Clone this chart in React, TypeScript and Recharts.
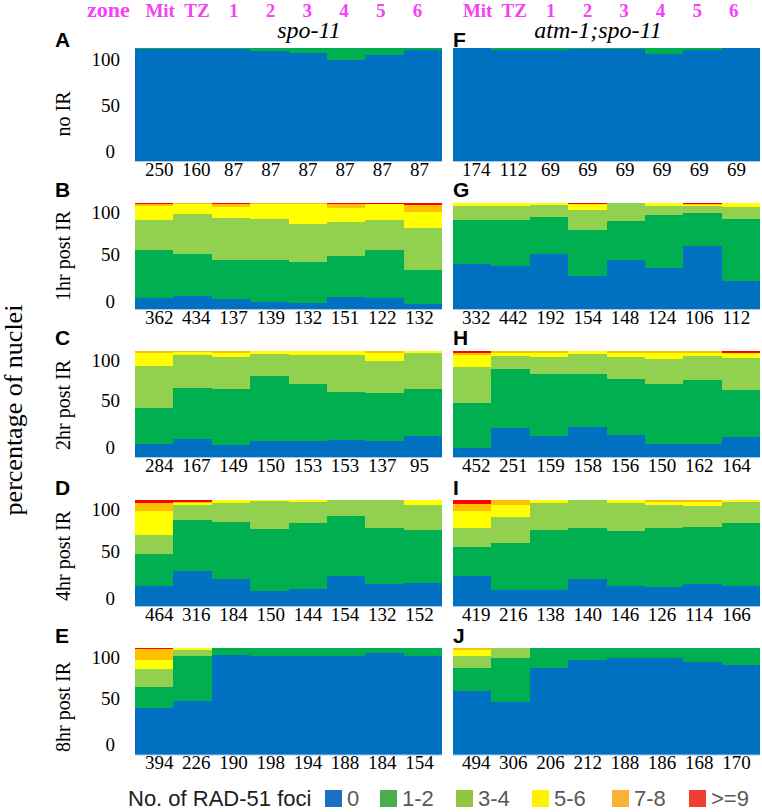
import React from 'react';
import { BarChart, Bar, XAxis, YAxis } from 'recharts';

const zones = ['Mit', 'TZ', '1', '2', '3', '4', '5', '6'];
const fociClasses = ['0', '1-2', '3-4', '5-6', '7-8', '>=9'];
const yTicks = [0, 50, 100];

// percentage of nuclei per zone: [0, 1-2, 3-4, 5-6, 7-8, >=9]
const spoNoIR = [
  [99, 1, 0, 0, 0, 0], [99, 1, 0, 0, 0, 0], [99, 1, 0, 0, 0, 0], [97, 3, 0, 0, 0, 0],
  [95.5, 4.5, 0, 0, 0, 0], [89, 11, 0, 0, 0, 0], [94, 6, 0, 0, 0, 0], [98.5, 1.5, 0, 0, 0, 0],
];
const spo1hr = [
  [11, 44.6, 28.2, 13.4, 2.2, 0.6], [12.5, 40, 36.9, 9.35, 1.25, 0], [10.3, 35.95, 39.35, 10.65, 2.5, 1.25],
  [7.2, 39.05, 38.45, 14.7, 0.6, 0], [6.25, 38.15, 36.2, 18.15, 1.25, 0], [11.9, 38.1, 31.9, 13.1, 4.4, 0.6],
  [10.9, 45.35, 27.5, 15, 0, 1.25], [5, 31.9, 39.7, 15, 6.2, 2.2],
];
const spo2hr = [
  [12.5, 33.6, 39.8, 11.9, 2.2, 0], [17.5, 47.4, 31.3, 2.8, 1, 0], [11.3, 52.6, 30.1, 3.8, 2.2, 0],
  [15.4, 61.1, 20.7, 2.8, 0, 0], [15.4, 53.6, 27.2, 3.8, 0, 0], [16.9, 44.9, 34.1, 4.1, 0, 0],
  [15.4, 44.8, 30.7, 7.5, 1.6, 0], [20.1, 44.2, 33.5, 2.2, 0, 0],
];
const spo4hr = [
  [19.4, 30, 17.5, 23.1, 6.9, 3.1], [33.75, 47.5, 14.05, 2.2, 1, 1.5], [26.25, 52.75, 17.9, 3.1, 0, 0],
  [15, 58.1, 25.65, 1.25, 0, 0], [16.9, 61.85, 19.35, 1.9, 0, 0], [28.75, 56.55, 14.7, 0, 0, 0],
  [21.25, 52.75, 26, 0, 0, 0], [22.2, 49.7, 23.4, 4.7, 0, 0],
];
const spo8hr = [
  [43.9, 20, 16.2, 8.7, 9.95, 1.25], [50.5, 42.3, 5.3, 1.9, 0, 0], [93.5, 6.5, 0, 0, 0, 0],
  [92.8, 7.2, 0, 0, 0, 0], [92.8, 7.2, 0, 0, 0, 0], [92.5, 7.5, 0, 0, 0, 0],
  [95, 5, 0, 0, 0, 0], [92.8, 7.2, 0, 0, 0, 0],
];
const atmNoIR = [
  [100, 0, 0, 0, 0, 0], [98, 2, 0, 0, 0, 0], [98, 2, 0, 0, 0, 0], [99, 1, 0, 0, 0, 0],
  [99.5, 0.5, 0, 0, 0, 0], [95, 5, 0, 0, 0, 0], [98.5, 1.5, 0, 0, 0, 0], [100, 0, 0, 0, 0, 0],
];
const atm1hr = [
  [42.5, 41.25, 13.15, 3.1, 0, 0], [41.25, 42.5, 13.15, 3.1, 0, 0], [51.9, 35, 11.2, 1.9, 0, 0],
  [31.25, 43.75, 18.75, 5, 0.6, 0.65], [46.25, 36.85, 16.9, 0, 0, 0], [38.75, 50, 8.75, 2.5, 0, 0],
  [60, 30.6, 6.3, 1.2, 0.6, 1.3], [26.9, 58.1, 11.25, 3.75, 0, 0],
];
const atm2hr = [
  [9.1, 41.7, 34.5, 10.9, 2.2, 1.6], [27.6, 55.5, 12.2, 3.1, 1.6, 0], [20.1, 58.3, 15.6, 4.4, 1.6, 0],
  [28.2, 50.2, 18.8, 2.8, 0, 0], [20.7, 52.7, 21.3, 3.7, 1.6, 0], [12.5, 56.2, 23.8, 5.9, 1.6, 0],
  [12.5, 60.2, 22.6, 3.1, 1.6, 0], [18.8, 44.5, 29.8, 4.7, 0.6, 1.6],
];
const atm4hr = [
  [28.75, 27.5, 17.15, 16.6, 6.25, 3.75], [15.6, 44.4, 23.75, 11.55, 4.7, 0], [15.6, 56.3, 25, 3.1, 0, 0],
  [25.6, 48.4, 26, 0, 0, 0], [19.4, 51.5, 26, 3.1, 0, 0], [18.1, 55.9, 21, 3.1, 1.9, 0],
  [21.25, 53.75, 19.4, 3.7, 1.9, 0], [19.4, 58.7, 20, 1.9, 0, 0],
];
const atm8hr = [
  [60.1, 20.9, 11.8, 5.3, 1.9, 0], [49.5, 40.8, 9.7, 0, 0, 0], [81.3, 18.7, 0, 0, 0, 0],
  [88.8, 11.2, 0, 0, 0, 0], [90.3, 9.7, 0, 0, 0, 0], [90.3, 9.7, 0, 0, 0, 0],
  [87.2, 12.8, 0, 0, 0, 0], [84.1, 15.9, 0, 0, 0, 0],
];

// number of nuclei scored per zone
const spoNoIRn = [250, 160, 87, 87, 87, 87, 87, 87];
const spo1hrN = [362, 434, 137, 139, 132, 151, 122, 132];
const spo2hrN = [284, 167, 149, 150, 153, 153, 137, 95];
const spo4hrN = [464, 316, 184, 150, 144, 154, 132, 152];
const spo8hrN = [394, 226, 190, 198, 194, 188, 184, 154];
const atmNoIRn = [174, 112, 69, 69, 69, 69, 69, 69];
const atm1hrN = [332, 442, 192, 154, 148, 124, 106, 112];
const atm2hrN = [452, 251, 159, 158, 156, 150, 162, 164];
const atm4hrN = [419, 216, 138, 140, 146, 126, 114, 166];
const atm8hrN = [494, 306, 206, 212, 188, 186, 168, 170];

const rowLabels = ['no IR', '1hr post IR', '2hr post IR', '4hr post IR', '8hr post IR'];
const leftLetters = ['A', 'B', 'C', 'D', 'E'];
const rightLetters = ['F', 'G', 'H', 'I', 'J'];
const titles = ['spo-11', 'atm-1;spo-11'];

// ---- styles / layout ----
const SERIF = "'Liberation Serif', 'Times New Roman', Times, serif";
const SANS = "'Liberation Sans', Arial, Helvetica, sans-serif";
const MAGENTA = '#f542f5';
const barColors = ['#0070c0', '#00b050', '#92d050', '#ffff00', '#ffc000', '#ff0000'];
const legendColors = ['#1c6ec3', '#4cad4b', '#8ec641', '#fff200', '#fbb133', '#ee3f33'];
const PLOT_W = 307;
const BAND = PLOT_W / 8;
const colX = [135, 453];
const rowGeom = [
  { top: 48, h: 113.5, yDomain: [-10.6, 112.2], letterY: 47, labelY: 114 },
  { top: 203, h: 106.5, yDomain: [-9.4, 105.4], letterY: 196.5, labelY: 256 },
  { top: 351, h: 106.5, yDomain: [-10.9, 103.2], letterY: 345, labelY: 405 },
  { top: 500, h: 106.5, yDomain: [-8.8, 105.4], letterY: 495, labelY: 556 },
  { top: 648, h: 107, yDomain: [-11.6, 104.7], letterY: 643, labelY: 707 },
];
const legendBoxX = [325, 380, 456, 532, 612, 689];

const serif = (size: number, extra: React.CSSProperties = {}): React.CSSProperties => ({
  fontFamily: SERIF,
  fontSize: size,
  ...extra,
});
const sans = (size: number, extra: React.CSSProperties = {}): React.CSSProperties => ({
  fontFamily: SANS,
  fontSize: size,
  ...extra,
});

function buildRows(values: number[][]) {
  return zones.map((z, i) => {
    const r: Record<string, any> = { zone: z };
    fociClasses.forEach((_, k) => {
      r['k' + k] = values[i][k] ?? 0;
    });
    return r;
  });
}

// fill the whole category band and snap edges to pixels so neighbouring segments meet without seams
const SnapRect = (p: any) => {
  if (!p.height || p.height <= 0 || !p.width) return <g />;
  const pad = Math.max(0, (BAND - p.width) / 2);
  const x0 = Math.round(p.x - pad);
  const x1 = Math.round(p.x + p.width + pad);
  const y0 = Math.round(p.y);
  const y1 = Math.round(p.y + p.height);
  if (y1 - y0 <= 0) {
    return <rect x={x0} y={p.y} width={x1 - x0} height={p.height} fill={p.fill} />;
  }
  return <rect x={x0} y={y0} width={x1 - x0} height={y1 - y0} fill={p.fill} shapeRendering="crispEdges" />;
};

type PanelProps = {
  values: number[][];
  counts: number[];
  col: number;
  row: number;
};

function Panel({ values, counts, col, row }: PanelProps) {
  const g = rowGeom[row];
  const yW = col === 0 ? 50 : 0;
  const showZones = row === 0;
  const topH = showZones ? g.top : 0;
  const bottomH = 30;
  const data = buildRows(values);
  const countOff = (i: number) => (col === 0 ? 5 - 1.2 * i : 4 - 1.2 * i);
  const zoneOff = (i: number) => (col === 0 ? 6 - 1.6 * i : 5.5 - 1.8 * i);

  const countTick = (p: any) => {
    const i = p.index ?? 0;
    return (
      <text x={p.x + countOff(i)} y={p.y + 7.5} dy="0.355em" textAnchor="middle" fill="#000" style={serif(19)}>
        {counts[i]}
      </text>
    );
  };
  const zoneTick = (p: any) => {
    const i = p.index ?? 0;
    return (
      <text x={p.x + zoneOff(i)} y={p.y - 38} dy="0.355em" textAnchor="middle" fill={MAGENTA} style={serif(19, { fontWeight: 'bold' })}>
        {p.payload.value}
      </text>
    );
  };
  const yTick = (p: any) => {
    const v = p.payload.value;
    return (
      <text x={p.x - (v === 0 ? 20 : 15)} y={p.y} dy="0.355em" textAnchor="end" fill="#000" style={serif(19)}>
        {v}
      </text>
    );
  };

  return (
    <div style={{ position: 'absolute', left: colX[col] - yW, top: g.top - topH }}>
      <BarChart
        width={yW + PLOT_W}
        height={topH + g.h + bottomH}
        data={data}
        margin={{ top: 0, right: 0, bottom: 0, left: 0 }}
        barCategoryGap={0}
        barGap={0}
        barSize={BAND}
      >
        <XAxis
          xAxisId="b"
          dataKey="zone"
          height={bottomH}
          interval={0}
          tickLine={false}
          tickSize={0}
          tickMargin={0}
          axisLine={{ stroke: '#a9c8ea', strokeWidth: 1 }}
          tick={countTick}
        />
        {showZones && (
          <XAxis
            xAxisId="t"
            dataKey="zone"
            orientation="top"
            height={topH}
            interval={0}
            tickLine={false}
            tickSize={0}
            tickMargin={0}
            axisLine={false}
            tick={zoneTick}
          />
        )}
        <YAxis yAxisId="v" type="number" domain={[0, 100]} hide allowDataOverflow />
        {col === 0 && (
          <YAxis
            yAxisId="t"
            type="number"
            domain={g.yDomain}
            ticks={yTicks}
            allowDataOverflow
            width={50}
            tickLine={false}
            tickSize={0}
            tickMargin={0}
            axisLine={false}
            tick={yTick}
          />
        )}
        {fociClasses.map((c, k) => (
          <Bar
            key={c}
            dataKey={'k' + k}
            name={c}
            stackId="s"
            xAxisId="b"
            yAxisId="v"
            fill={barColors[k]}
            shape={SnapRect}
            isAnimationActive={false}
          />
        ))}
      </BarChart>
    </div>
  );
}

export default function App() {
  const left = [
    { values: spoNoIR, counts: spoNoIRn },
    { values: spo1hr, counts: spo1hrN },
    { values: spo2hr, counts: spo2hrN },
    { values: spo4hr, counts: spo4hrN },
    { values: spo8hr, counts: spo8hrN },
  ];
  const right = [
    { values: atmNoIR, counts: atmNoIRn },
    { values: atm1hr, counts: atm1hrN },
    { values: atm2hr, counts: atm2hrN },
    { values: atm4hr, counts: atm4hrN },
    { values: atm8hr, counts: atm8hrN },
  ];
  return (
    <div style={{ position: 'absolute', left: 0, top: 0, width: 762, height: 812, background: '#fff', overflow: 'hidden' }}>
      {left.map((p, r) => (
        <Panel key={'l' + r} values={p.values} counts={p.counts} col={0} row={r} />
      ))}
      {right.map((p, r) => (
        <Panel key={'r' + r} values={p.values} counts={p.counts} col={1} row={r} />
      ))}
      <svg width={762} height={812} style={{ position: 'absolute', left: 0, top: 0, pointerEvents: 'none' }}>
        <text x={87} y={17} fill={MAGENTA} style={serif(22, { fontWeight: 'bold' })}>zone</text>
        <text x={309} y={38} fill="#000" textAnchor="middle" style={serif(24, { fontStyle: 'italic' })}>{titles[0]}</text>
        <text x={598} y={38} fill="#000" textAnchor="middle" style={serif(24, { fontStyle: 'italic' })}>{titles[1]}</text>
        {rowGeom.map((g, r) => (
          <g key={r}>
            <text x={55} y={g.letterY} fill="#000" style={sans(21, { fontWeight: 'bold' })}>{leftLetters[r]}</text>
            <text x={453} y={g.letterY} fill="#000" style={sans(21, { fontWeight: 'bold' })}>{rightLetters[r]}</text>
            <text transform={`translate(70, ${g.labelY}) rotate(-90)`} fill="#000" textAnchor="middle" style={serif(20)}>{rowLabels[r]}</text>
          </g>
        ))}
        <text transform="translate(21.5, 410) rotate(-90)" fill="#000" textAnchor="middle" style={serif(26)}>percentage of nuclei</text>
        <text x={128} y={806} fill="#1e1e1e" style={sans(22)}>No. of RAD-51 foci</text>
        {fociClasses.map((c, k) => (
          <g key={c}>
            <rect x={legendBoxX[k]} y={790} width={17} height={17} fill={legendColors[k]} />
            <text x={legendBoxX[k] + 22} y={806} fill="#595959" style={sans(22)}>{c}</text>
          </g>
        ))}
      </svg>
    </div>
  );
}
